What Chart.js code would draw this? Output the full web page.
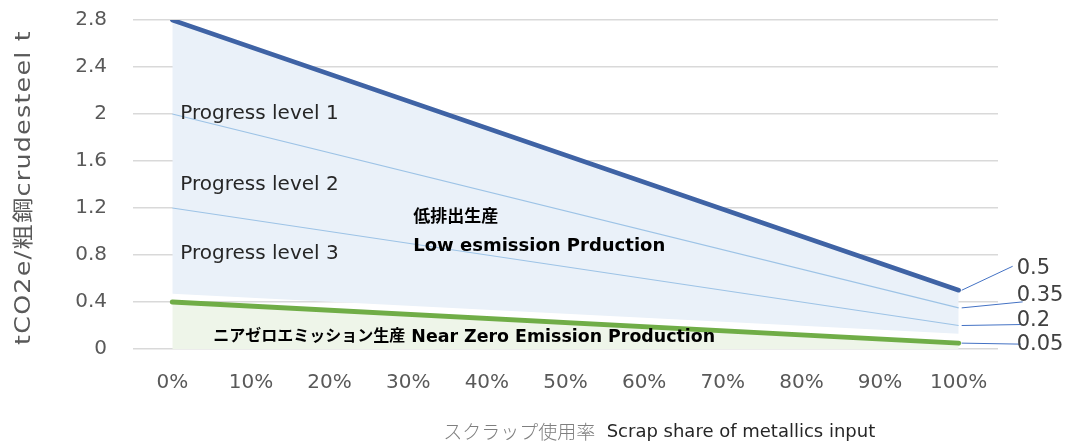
<!DOCTYPE html>
<html>
<head>
<meta charset="utf-8">
<script src="https://cdn.jsdelivr.net/npm/chart.js@4.4.1/dist/chart.umd.min.js"></script>
<style>
    html, body { margin: 0; padding: 0; background: #fff; }
    #wrap { width: 1068px; height: 443px; }
</style>
</head>
<body>
<div id="wrap"><canvas id="chart"></canvas></div>
<script>
// Chart data ----- START
const scrapShare = ['0%', '10%', '20%', '30%', '40%', '50%', '60%', '70%', '80%', '90%', '100%'];
const yTicks = [0, 0.4, 0.8, 1.2, 1.6, 2, 2.4, 2.8];

// Each line is straight, so only its values at 0% and 100% are kept
const conventional = [2.8, 0.5];       // top of the low emission band
const lowBandFloor = [0.47, 0.13];     // bottom of the low emission band (fill only)
const progressLine1 = [2.0, 0.35];
const progressLine2 = [1.2, 0.2];
const nearZero = [0.4, 0.05];

const progressNames = ['Progress level 1', 'Progress level 2', 'Progress level 3'];
const lowBandNames = ['低排出生産', 'Low esmission Prduction'];
const nearZeroName = ['ニアゼロエミッション生産', ' Near Zero Emission Production'];
const xTitle = ['スクラップ使用率', '  Scrap share of metallics input'];
const yTitle = 'tCO2e/粗鋼crudesteel t';
// Chart data ----- END

const LATIN = '"DejaVu Sans", "Noto Sans CJK JP", sans-serif';

//Turn a [start, end] pair into two points on the category axis
function ends(values) {
    return [
        { x: scrapShare[0], y: values[0] },
        { x: scrapShare[scrapShare.length - 1], y: values[1] }
    ];
}

//Texts drawn on top of the lines: band names, end value labels and the axis titles
const textPlugin = {
    id: 'chartTexts',
    afterDatasetsDraw(chart) {
        const ctx = chart.ctx;
        const area = chart.chartArea;
        const x = chart.scales.x;
        const y = chart.scales.y;
        ctx.save();
        ctx.textBaseline = 'middle';
        ctx.textAlign = 'left';

        //Progress level names, placed at these y values next to 0%
        const progressAt = [2.0, 1.40, 0.81];
        ctx.font = '20px ' + LATIN;
        ctx.fillStyle = '#262626';
        progressNames.forEach((name, i) => {
            ctx.fillText(name, x.getPixelForValue(0) + 8, y.getPixelForValue(progressAt[i]));
        });

        //Low emission band name
        ctx.fillStyle = '#000';
        ctx.font = 'bold 17px ' + LATIN;
        ctx.fillText(lowBandNames[0], x.getPixelForValue(3) + 5, y.getPixelForValue(1.12));
        ctx.font = 'bold 18px ' + LATIN;
        ctx.fillText(lowBandNames[1], x.getPixelForValue(3) + 5, y.getPixelForValue(0.87));

        //Near zero band name
        const nzX = x.getPixelForValue(0) + 41;
        const nzY = y.getPixelForValue(0.1);
        ctx.font = 'bold 16px ' + LATIN;
        ctx.fillText(nearZeroName[0], nzX, nzY);
        const nzW = ctx.measureText(nearZeroName[0]).width;
        ctx.font = 'bold 17.4px ' + LATIN;
        ctx.fillText(nearZeroName[1], nzX + nzW, nzY);

        //End value labels with leader lines
        const labelled = [
            { ds: 0, dx: 58, dy: -22, lx: -4, ly: -2 },
            { ds: 2, dx: 58, dy: -12, lx: 6, ly: 6 },
            { ds: 3, dx: 58, dy: -5, lx: 6, ly: 4 },
            { ds: 4, dx: 58, dy: 1, lx: 4, ly: 0 }
        ];
        ctx.font = '21px ' + LATIN;
        ctx.fillStyle = '#404040';
        labelled.forEach(l => {
            const meta = chart.getDatasetMeta(l.ds);
            const pt = meta.data[meta.data.length - 1];
            const values = chart.data.datasets[l.ds].data;
            const text = String(values[values.length - 1].y);
            const tx = pt.x + l.dx;
            const ty = pt.y + l.dy;
            ctx.strokeStyle = '#4472c4';
            ctx.lineWidth = 1;
            ctx.beginPath();
            ctx.moveTo(pt.x + 3, pt.y);
            ctx.lineTo(tx + l.lx, ty + l.ly);
            ctx.stroke();
            ctx.fillText(text, tx, ty);
        });

        //X axis title, Japanese part is lighter
        const titleX = x.getPixelForValue(3) + 35;
        const titleY = area.bottom + 83;
        ctx.font = '300 19px "Noto Sans CJK JP", sans-serif';
        ctx.fillStyle = '#7f7f7f';
        ctx.fillText(xTitle[0], titleX, titleY);
        const jpW = ctx.measureText(xTitle[0]).width;
        ctx.font = '18px ' + LATIN;
        ctx.fillStyle = '#262626';
        ctx.fillText(xTitle[1], titleX + jpW, titleY);

        //Y axis title, rotated and stretched a little like the wide original font
        ctx.font = '21px ' + LATIN;
        ctx.letterSpacing = '1px';
        const targetLen = area.bottom - area.top - 14;
        const plainW = ctx.measureText(yTitle).width;
        ctx.fillStyle = '#595959';
        ctx.translate(25, (area.top + area.bottom) / 2 + 3);
        ctx.rotate(-Math.PI / 2);
        ctx.scale(targetLen / plainW, 1);
        ctx.textAlign = 'center';
        ctx.fillText(yTitle, 0, 0);

        ctx.restore();
    }
};

const chartElement = document.getElementById('chart').getContext('2d');
const chart = new Chart(chartElement, {
    type: 'line',
    data: {
        labels: scrapShare,
        datasets: [{
            label: 'Conventional',
            data: ends(conventional),
            borderColor: '#3f63a5',
            borderWidth: 4.5,
            borderCapStyle: 'round',
            backgroundColor: '#eaf1f9',
            fill: '+1'
        }, {
            label: 'Low band floor',
            data: ends(lowBandFloor),
            borderWidth: 0,
            borderColor: 'rgba(0,0,0,0)',
            fill: false
        }, {
            label: 'Progress 1/2',
            data: ends(progressLine1),
            borderColor: '#9dc3e6',
            borderWidth: 1.2,
            fill: false
        }, {
            label: 'Progress 2/3',
            data: ends(progressLine2),
            borderColor: '#9dc3e6',
            borderWidth: 1.2,
            fill: false
        }, {
            label: 'Near zero',
            data: ends(nearZero),
            borderColor: '#70ad47',
            borderWidth: 5,
            borderCapStyle: 'round',
            backgroundColor: '#eef5e9',
            fill: 'origin'
        }]
    },
    options: {
        responsive: true,
        maintainAspectRatio: false,
        animation: false,
        events: [],
        elements: {
            point: { radius: 0 },
            line: { tension: 0 }
        },
        layout: {
            padding: { top: 20, right: 70, left: 0, bottom: 0 }
        },
        plugins: {
            legend: { display: false },
            tooltip: { enabled: false },
            filler: { drawTime: 'beforeDatasetsDraw' }
        },
        scales: {
            x: {
                type: 'category',
                offset: true,
                grid: { display: false, drawTicks: false },
                border: { display: false },
                ticks: {
                    color: '#595959',
                    font: { size: 20, family: LATIN },
                    padding: 22,
                    maxRotation: 0
                },
                afterFit: scale => { scale.height = 94; scale.paddingTop = 0; scale.paddingBottom = 0; }
            },
            y: {
                min: 0,
                max: 2.8,
                afterBuildTicks: axis => { axis.ticks = yTicks.map(v => ({ value: v })); },
                grid: { color: '#d9d9d9', lineWidth: 1.5, drawTicks: false },
                border: { display: false },
                ticks: {
                    color: '#595959',
                    font: { size: 20, family: LATIN },
                    padding: 26,
                    callback: v => String(v)
                },
                afterFit: scale => { scale.width = 133; scale.paddingTop = 0; scale.paddingBottom = 0; }
            }
        }
    },
    plugins: [textPlugin]
});
</script>
</body>
</html>
